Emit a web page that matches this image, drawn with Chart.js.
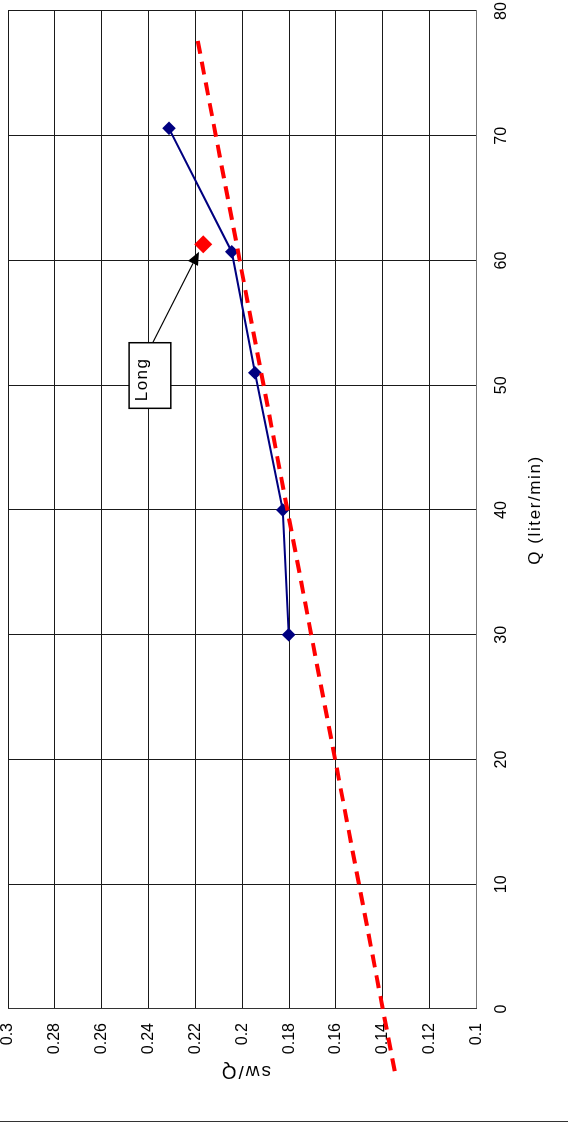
<!DOCTYPE html>
<html><head><meta charset="utf-8">
<script src="https://cdn.jsdelivr.net/npm/chart.js@4.4.1/dist/chart.umd.min.js"></script>
<style>
html,body{margin:0;padding:0;background:#fff;overflow:hidden;width:568px;height:1124px;}
#wrap{position:absolute;left:0;top:0;width:1124px;height:568px;transform-origin:0 0;transform:translateY(1124px) rotate(-90deg);background:#fff;}
canvas{display:block;}
</style></head><body>
<div id="wrap"><canvas id="c" width="1124" height="568"></canvas></div>
<script>
// ---- data ----
const qMeasured   = [30, 40, 51, 60.7, 70.6];
const swqMeasured = [0.1802, 0.1827, 0.1946, 0.2045, 0.2313];
const qLong   = [61.3];
const swqLong = [0.2166];
const qTrend   = [77.6, -5];
const swqTrend = [0.2190, 0.1349];
const qTicks = [0, 10, 20, 30, 40, 50, 60, 70, 80];
const qTickLabels = ['0', '10', '20', '30', '40', '50', '60', '70', '80'];
const swqTicks = [0.1, 0.12, 0.14, 0.16, 0.18, 0.2, 0.22, 0.24, 0.26, 0.28, 0.3];
const swqTickLabels = ['0.1', '0.12', '0.14', '0.16', '0.18', '0.2', '0.22', '0.24', '0.26', '0.28', '0.3'];
const xTitle = 'Q (liter/min)';
const yTitle = 'sw/Q';
const noteText = 'Long';
const noteTip  = {q: 60.7, swq: 0.2185};
const noteFrom = {q: 53.45, swq: 0.2381};
const noteBox  = {q: 50.78, swq: 0.2394};

const toPts = (xs, ys) => xs.map((v, i) => ({x: v, y: ys[i]}));
const FONT = '"Liberation Sans", Arial, sans-serif';
const noPad = s => { s.paddingLeft = 0; s.paddingRight = 0; s.paddingTop = 0; s.paddingBottom = 0; };

const extras = {
  id: 'extras',
  afterDatasetsDraw(chart) {
    const {ctx, scales: {x, y}} = chart;
    const tx = x.getPixelForValue(noteTip.q), ty = y.getPixelForValue(noteTip.swq);
    const fx = x.getPixelForValue(noteFrom.q), fy = y.getPixelForValue(noteFrom.swq);
    const cx = x.getPixelForValue(noteBox.q), cy = y.getPixelForValue(noteBox.swq);
    ctx.save();
    ctx.strokeStyle = '#000'; ctx.fillStyle = '#000'; ctx.lineWidth = 1.3;
    const ang = Math.atan2(ty - fy, tx - fx);
    const headLen = 13, headW = 5.5;
    const bx = tx - headLen * Math.cos(ang), by = ty - headLen * Math.sin(ang);
    ctx.beginPath(); ctx.moveTo(fx, fy); ctx.lineTo(bx, by); ctx.stroke();
    ctx.beginPath();
    ctx.moveTo(tx, ty);
    ctx.lineTo(bx + headW * Math.sin(ang), by - headW * Math.cos(ang));
    ctx.lineTo(bx - headW * Math.sin(ang), by + headW * Math.cos(ang));
    ctx.closePath(); ctx.fill();
    const bw = 65.6, bh = 41.7;
    ctx.fillStyle = '#fff';
    ctx.fillRect(cx - bw / 2, cy - bh / 2, bw, bh);
    ctx.lineWidth = 1.5; ctx.strokeStyle = '#000';
    ctx.strokeRect(cx - bw / 2, cy - bh / 2, bw, bh);
    ctx.fillStyle = '#000';
    ctx.font = '17px ' + FONT;
    ctx.letterSpacing = '1.5px';
    ctx.textAlign = 'left'; ctx.textBaseline = 'alphabetic';
    ctx.fillText(noteText, cx - bw / 2 + 7, cy - bh / 2 + 18);
    ctx.restore();
  },
  afterDraw(chart) {
    const {ctx, chartArea} = chart;
    ctx.save();
    ctx.fillStyle = '#000';
    ctx.font = '17px ' + FONT;
    ctx.letterSpacing = '1.6px';
    ctx.textAlign = 'center'; ctx.textBaseline = 'middle';
    ctx.fillText(xTitle, (chartArea.left + chartArea.right) / 2, 535);
    ctx.save();
    ctx.translate(53, (chartArea.top + chartArea.bottom) / 2 + 3);
    ctx.rotate(-Math.PI / 2);
    ctx.font = '19px ' + FONT;
    ctx.letterSpacing = '2px';
    ctx.fillText(yTitle, 0, 0);
    ctx.restore();
    ctx.strokeStyle = '#333'; ctx.lineWidth = 1;
    ctx.beginPath(); ctx.moveTo(2.5, 0); ctx.lineTo(2.5, 568); ctx.stroke();
    ctx.restore();
  }
};

new Chart(document.getElementById('c'), {
  type: 'scatter',
  data: {
    datasets: [
      {
        label: 'trend',
        data: toPts(qTrend, swqTrend),
        showLine: true,
        borderColor: '#ff0000',
        borderWidth: 4,
        borderDash: [13, 8.14],
        borderCapStyle: 'butt',
        pointRadius: 0,
        pointHoverRadius: 0,
        clip: false
      },
      {
        label: 'Long',
        data: toPts(qLong, swqLong),
        showLine: false,
        pointStyle: 'rectRot',
        pointRadius: 9,
        pointHoverRadius: 9,
        pointBackgroundColor: '#ff0000',
        pointBorderColor: '#ff0000',
        pointBorderWidth: 0
      },
      {
        label: 'measured',
        data: toPts(qMeasured, swqMeasured),
        showLine: true,
        borderColor: '#000080',
        borderWidth: 2,
        pointStyle: 'rectRot',
        pointRadius: 6.8,
        pointHoverRadius: 6.8,
        pointBackgroundColor: '#000080',
        pointBorderColor: '#000080',
        pointBorderWidth: 0
      }
    ]
  },
  options: {
    responsive: false,
    animation: false,
    devicePixelRatio: 1,
    events: [],
    layout: {autoPadding: false, padding: {left: 0, right: 11, top: 8, bottom: 0}},
    plugins: {legend: {display: false}, tooltip: {enabled: false}},
    scales: {
      x: {
        type: 'linear', position: 'bottom', min: 0, max: 80,
        afterBuildTicks: s => { s.ticks = qTicks.map(v => ({value: v})); },
        afterFit: s => { s.height = 91.5; noPad(s); },
        ticks: {
          color: '#000', padding: 15, maxRotation: 0, autoSkip: false,
          font: {family: FONT, size: 16},
          callback: v => qTickLabels[qTicks.indexOf(v)]
        },
        grid: {color: '#1a1a1a', lineWidth: 1, drawTicks: false},
        border: {display: true, color: '#777', width: 1}
      },
      y: {
        type: 'linear', position: 'left', min: 0.1, max: 0.3,
        afterBuildTicks: s => { s.ticks = swqTicks.map(v => ({value: v})); },
        afterFit: s => { s.width = 115; noPad(s); },
        ticks: {
          color: '#000', padding: 14, autoSkip: false,
          font: {family: FONT, size: 16},
          callback: v => swqTickLabels[swqTicks.findIndex(t => Math.abs(t - v) < 1e-9)]
        },
        grid: {color: '#1a1a1a', lineWidth: 1, drawTicks: false},
        border: {display: true, color: '#333', width: 1}
      }
    }
  },
  plugins: [extras]
});
</script>
</body></html>
